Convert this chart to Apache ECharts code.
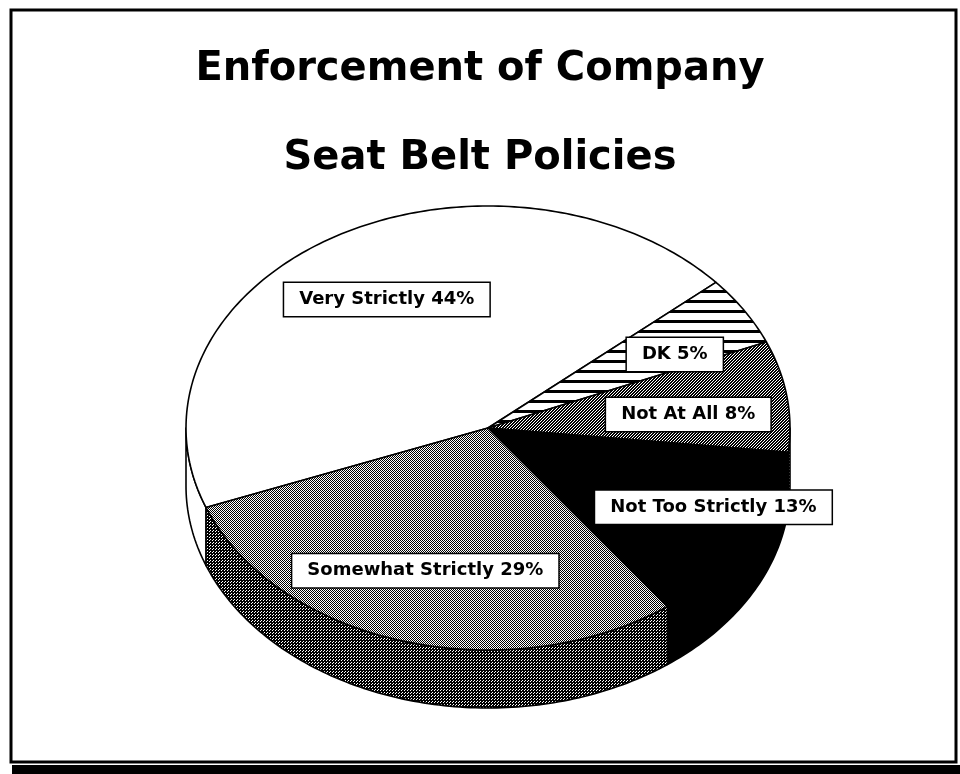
<!DOCTYPE html>
<html>
<head>
<meta charset="utf-8">
<title>Enforcement of Company Seat Belt Policies</title>
<script src="https://cdn.jsdelivr.net/npm/echarts@6/dist/echarts.min.js"></script>
<style>
  html, body { margin: 0; padding: 0; background: #fff; }
  #chart { width: 960px; height: 774px; }
</style>
</head>
<body>
<div id="chart"></div>
<script>
// Survey answers, in drawing order (clockwise from the left edge of the pie)
const categories = ['Very Strictly', 'DK', 'Not At All', 'Not Too Strictly', 'Somewhat Strictly'];
const shares = [44, 5, 8, 13, 29];

// Pie geometry (pixels); labels sit at 0.67 of the radius on each slice's
// middle angle, shifted by a small per-label nudge
const geom = { cx: 488, cy: 428, rx: 302, ry: 222, depth: 58, startDeg: 159 };
const labelNudge = [[3, -1], [15, 5], [0, 8], [50, 5], [-6, 0]];

// Small monochrome tiles used as halftone / hatch fills
function tile(rows) {
  const h = rows.length, w = rows[0].length;
  const c = document.createElement('canvas');
  c.width = w; c.height = h;
  const ctx = c.getContext('2d');
  ctx.fillStyle = '#fff';
  ctx.fillRect(0, 0, w, h);
  ctx.fillStyle = '#000';
  rows.forEach((r, y) => {
    for (let x = 0; x < w; x++) if (r[x] === 'x') ctx.fillRect(x, y, 1, 1);
  });
  return { image: c, repeat: 'repeat' };
}
const fills = {
  white: '#ffffff',
  black: '#000000',
  stripes: tile(['xxxx', 'xxxx', 'xxxx', '....', '....', '....', '....', '....', '....', '....']),
  light: tile(['x.', '.x']),
  dark: tile(['x.x', '.xx', 'xx.']),
  darker: tile(['xx.', 'xxx', '.xx'])
};
const topFill = [fills.white, fills.stripes, fills.dark, fills.black, fills.light];
const sideFill = [fills.white, fills.stripes, fills.dark, fills.black, fills.darker];

// Angular extent of every slice
const total = shares.reduce((a, b) => a + b, 0);
const spans = [];
let acc = geom.startDeg;
shares.forEach(v => {
  const s = v / total * 360;
  spans.push([acc, acc + s]);
  acc += s;
});

const rad = d => d * Math.PI / 180;
function pt(deg, dy, k) {
  const f = k == null ? 1 : k;
  return [geom.cx + geom.rx * f * Math.cos(rad(deg)), geom.cy + geom.ry * f * Math.sin(rad(deg)) + (dy || 0)];
}
function arc(a0, a1, dy) {
  const pts = [];
  const n = Math.max(2, Math.ceil(Math.abs(a1 - a0)));
  for (let i = 0; i <= n; i++) pts.push(pt(a0 + (a1 - a0) * i / n, dy));
  return pts;
}

function renderSlice(params, api) {
  const i = params.dataIndex;
  const a0 = spans[i][0], a1 = spans[i][1];
  const children = [];
  // side wall: only the front half (0..180 deg, screen y down) is visible
  [[0, 180], [360, 540]].forEach(([f0, f1]) => {
    const s = Math.max(a0, f0), e = Math.min(a1, f1);
    if (e > s) {
      const pts = arc(s, e, 0).concat(arc(e, s, geom.depth));
      children.push({
        type: 'polygon',
        shape: { points: pts },
        style: { fill: sideFill[i], stroke: '#000', lineWidth: 1.6, lineJoin: 'round' }
      });
    }
  });
  // top face
  const topPts = [[geom.cx, geom.cy]].concat(arc(a0, a1, 0));
  children.push({
    type: 'polygon',
    shape: { points: topPts },
    style: { fill: topFill[i], stroke: '#000', lineWidth: 1.6, lineJoin: 'round' }
  });
  return { type: 'group', children };
}

function renderLabel(params, api) {
  const i = params.dataIndex;
  const mid = (spans[i][0] + spans[i][1]) / 2;
  const p = pt(mid, 0, 0.67);
  return {
    type: 'text',
    x: p[0] + labelNudge[i][0], y: p[1] + labelNudge[i][1],
    style: {
      text: categories[i] + ' ' + api.value(0) + '%',
      font: 'bold 18px "DejaVu Sans", "Liberation Sans", sans-serif',
      fill: '#000',
      align: 'center',
      verticalAlign: 'middle',
      backgroundColor: '#fff',
      borderColor: '#000',
      borderWidth: 1.5,
      padding: [8, 15, 7, 15]
    }
  };
}

const chart = echarts.init(document.getElementById('chart'), null, { renderer: 'canvas' });
chart.setOption({
  backgroundColor: '#fff',
  animation: false,
  title: {
    text: 'Enforcement of Company\nSeat Belt Policies',
    left: 'center',
    top: 25,
    padding: 0,
    textStyle: {
      fontFamily: '"DejaVu Sans", "Liberation Sans", sans-serif',
      fontWeight: 'bold',
      fontSize: 40,
      lineHeight: 89,
      color: '#000'
    }
  },
  graphic: [
    { type: 'rect', z: 10, shape: { x: 11, y: 10, width: 945, height: 752 },
      style: { fill: 'none', stroke: '#000', lineWidth: 3 } },
    { type: 'rect', z: 10, shape: { x: 12, y: 765, width: 948, height: 9 },
      style: { fill: '#000' } }
  ],
  series: [
    {
      type: 'custom',
      coordinateSystem: 'none',
      z: 2,
      data: shares.map((v, i) => ({ name: categories[i], value: [v] })),
      renderItem: renderSlice
    },
    {
      type: 'custom',
      coordinateSystem: 'none',
      z: 5,
      data: shares.map((v, i) => ({ name: categories[i], value: [v] })),
      renderItem: renderLabel
    }
  ]
});
</script>
</body>
</html>
